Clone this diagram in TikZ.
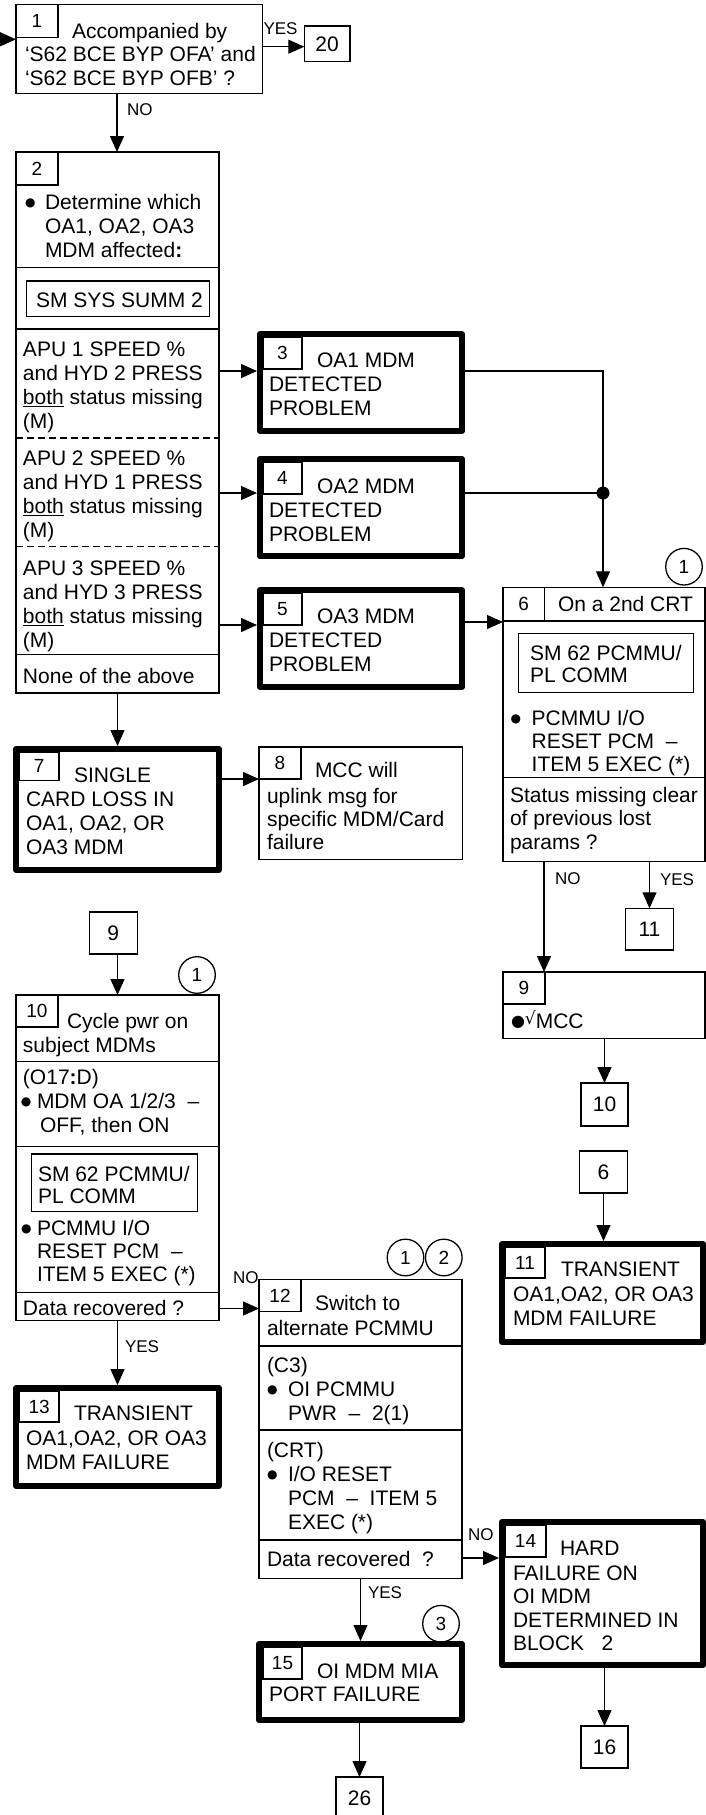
\documentclass[tikz,border=0pt]{standalone}
\usepackage{fontspec}
\setmainfont{Liberation Sans}
\newfontfamily\djv{DejaVu Sans}
\usetikzlibrary{arrows.meta}
\newcommand\fsz[1]{\fontsize{21}{#1}\selectfont}
\newcommand\ML[1]{\begin{tabular}[t]{@{}l@{}}#1\end{tabular}}
\newcommand\Bul[1]{\makebox[#1][l]{\raisebox{3pt}{\djv\fontsize{12}{12}\selectfont ●}}}
\newcommand\Ind[1]{\hspace*{#1}}
\newcommand\bx[6][box]{\node[#1,minimum width={(#5-#3)*1pt},minimum height={(#6-#4)*1pt}] (#2) at ({(#3+#5)/2},{(#4+#6)/2}) {};}
\newcommand\nb[7][numb]{\node[#1,minimum width={(#5-#3)*1pt},minimum height={(#6-#4)*1pt}] (#2) at ({(#3+#5)/2},{(#4+#6)/2}) {#7};}
\begin{document}
\begin{tikzpicture}[x=1pt,y=-1pt,line width=1.3pt,
  box/.style={draw,line width=1.3pt,inner sep=0pt,outer sep=0pt},
  tbox/.style={draw,line width=6pt,inner sep=0pt,outer sep=3pt,line join=round},
  numb/.style={draw,line width=1.3pt,inner sep=0pt,outer sep=0pt,font={\fontsize{19}{19}\selectfont}},
  refb/.style={draw,line width=1.3pt,inner sep=0pt,outer sep=0pt,font={\fontsize{21}{21}\selectfont}},
  tx/.style={anchor=base west,inner sep=0pt,outer sep=0pt,font={\fsz{24}}},
  lbl/.style={anchor=base west,inner sep=0pt,outer sep=0pt,font={\fontsize{17}{17}\selectfont}},
  circ/.style={draw,circle,line width=1.3pt,minimum size=36.6pt,inner sep=0pt,font={\fontsize{19}{19}\selectfont}},
  arr/.style={-{Triangle[length=16pt,width=14pt]},line width=1.3pt},
  dsh/.style={line width=1.3pt,dash pattern=on 7pt off 4pt}]
\clip (0,0) rectangle (706,1815);

% ---------- Box 1 ----------
\bx{b1}{16}{4.3}{262.3}{93.3}
\nb{n1}{16}{4.3}{58}{37.7}{1}
\node[tx] (t1a) at (72,38) {Accompanied by};
\node[tx,font={\fsz{23.5}}] (t1b) at (25,61.5) {\ML{‘S62 BCE BYP OFA’ and\\‘S62 BCE BYP OFB’ ?}};
\nb[refb]{b20}{304.3}{26}{350}{61.7}{20}
\node[lbl] (l1y) at (263.5,34.5) {YES};
\node[lbl] (l1n) at (127,115) {NO};

% ---------- Box 2 ----------
\bx{b2}{16}{152}{219}{693}
\nb{n2}{16}{152}{58}{185}{2}
\node[tx] (t2a) at (25,209.5) {\ML{\Bul{20pt}Determine which\\\Ind{20pt}OA1, OA2, OA3\\\Ind{20pt}MDM affected\textbf{:}}};
\draw (16,267.8) -- (219,267.8);
\bx{s2}{26.7}{281}{209.3}{316.8}
\node[tx] (t2b) at (36,307) {SM SYS SUMM 2};
\draw (16,329) -- (219,329);
\node[tx] (t2c) at (23,356.5) {\ML{APU 1 SPEED \%\\and HYD 2 PRESS\\\underline{both} status missing\\(M)}};
\draw[dsh] (16,438) -- (219,438);
\node[tx] (t2d) at (23,465.5) {\ML{APU 2 SPEED \%\\and HYD 1 PRESS\\\underline{both} status missing\\(M)}};
\draw[dsh] (16,546.4) -- (219,546.4);
\node[tx] (t2e) at (23,575.5) {\ML{APU 3 SPEED \%\\and HYD 3 PRESS\\\underline{both} status missing\\(M)}};
\draw (16,654.3) -- (219,654.3);
\node[tx] (t2f) at (23,683) {None of the above};

% ---------- Boxes 3, 4, 5 ----------
\bx[tbox]{b3}{260}{334}{462}{431}
\nb{n3}{263}{337}{302}{369}{3}
\node[tx] (t3a) at (317,367) {OA1 MDM};
\node[tx] (t3b) at (269,391.5) {\ML{DETECTED\\PROBLEM}};
\bx[tbox]{b4}{260}{459}{462}{556}
\nb{n4}{263}{462}{302}{494}{4}
\node[tx] (t4a) at (317,493) {OA2 MDM};
\node[tx] (t4b) at (269,517) {\ML{DETECTED\\PROBLEM}};
\bx[tbox]{b5}{260}{590}{462}{687}
\nb{n5}{263}{593}{302}{625}{5}
\node[tx] (t5a) at (317,623) {OA3 MDM};
\node[tx] (t5b) at (269,647.5) {\ML{DETECTED\\PROBLEM}};

% ---------- Box 6 ----------
\bx{b6}{503}{587.3}{705}{861.7}
\nb{n6}{503}{587.3}{544.3}{621}{6}
\draw (503,621) -- (705,621);
\node[tx] (t6a) at (558,611.5) {On a 2nd CRT};
\bx{s6}{518.3}{633.3}{693.3}{692.7}
\node[tx,font={\fsz{22.5}}] (t6b) at (530,660) {\ML{SM 62 PCMMU/\\PL COMM}};
\node[tx,font={\fsz{23}}] (t6c) at (510.7,725) {\ML{\Bul{21pt}PCMMU I/O\\\Ind{21pt}RESET PCM\ \ –\\\Ind{21pt}ITEM 5 EXEC (*)}};
\draw (503,777.7) -- (705,777.7);
\node[tx,font={\fsz{23.5}}] (t6d) at (510,802) {\ML{Status missing clear\\of previous lost\\params ?}};
\node[circ] (c6) at (684,566.7) {1};
\node[lbl] (l6n) at (555,884) {NO};
\node[lbl] (l6y) at (660,885) {YES};
\nb[refb]{b11s}{625.7}{908.3}{673.3}{950}{11}

% ---------- Box 7, 8 ----------
\bx[tbox]{b7}{16.3}{749}{218.7}{870}
\nb{n7}{19.3}{752}{59}{780.7}{7}
\node[tx] (t7a) at (74,782.5) {SINGLE};
\node[tx] (t7b) at (26,806.5) {\ML{CARD LOSS IN\\OA1, OA2, OR\\OA3 MDM}};
\bx{b8}{259}{747}{462.7}{859.3}
\nb{n8}{259}{747}{301}{779}{8}
\node[tx] (t8a) at (315,777) {MCC will};
\node[tx,font={\fsz{23}}] (t8b) at (267,803) {\ML{uplink msg for\\specific MDM/Card\\failure}};

% ---------- Box 9 (right), refs ----------
\bx{b9r}{503}{972}{705}{1038.5}
\nb{n9r}{503}{972}{545}{1004}{9}
\node[tx] (t9r) at (511,1028) {{\djv\fontsize{16}{16}\selectfont\raisebox{1.5pt}{●}}{\djv\fontsize{17}{17}\selectfont\raisebox{4pt}{√}}MCC};
\nb[refb]{b10s}{581}{1083}{628}{1126}{10}
\nb[refb]{b6s}{579.5}{1151}{627.5}{1193}{6}

% ---------- Box 11 ----------
\bx[tbox]{b11}{502}{1244}{703}{1342}
\nb{n11}{505}{1247}{545}{1278}{11}
\node[tx] (t11a) at (561,1276.5) {TRANSIENT};
\node[tx] (t11b) at (513,1301) {\ML{OA1,OA2, OR OA3\\MDM FAILURE}};

% ---------- Box 9 (left), Box 10 ----------
\nb[refb]{b9l}{89.3}{912}{137.3}{954}{9}
\bx{b10}{16}{995}{219}{1320.7}
\nb{n10}{16}{995}{58}{1027}{10}
\node[tx] (t10a) at (67,1028.5) {Cycle pwr on};
\node[tx] (t10b) at (23,1052.5) {subject MDMs};
\draw (16,1061.7) -- (219,1061.7);
\node[tx] (t10c) at (23,1084) {\ML{(O17\textbf{:}D)\\\Ind{-2pt}\Bul{16pt}MDM OA 1/2/3\ \ –\\\Ind{17pt}OFF, then ON}};
\draw (16,1146.7) -- (219,1146.7);
\bx{s10}{31.7}{1154}{197.3}{1211.7}
\node[tx,font={\fsz{22}}] (t10d) at (38,1181.5) {\ML{SM 62 PCMMU/\\PL COMM}};
\node[tx,font={\fsz{23.3}}] (t10e) at (21,1235) {\ML{\Bul{16pt}PCMMU I/O\\\Ind{16pt}RESET PCM\ \ –\\\Ind{16pt}ITEM 5 EXEC (*)}};
\draw (16,1292.7) -- (219,1292.7);
\node[tx] (t10f) at (23,1315) {Data recovered ?};
\node[circ] (c10) at (197,975) {1};
\node[lbl] (l10n) at (233,1283) {NO};
\node[lbl] (l10y) at (125,1352.5) {YES};

% ---------- Box 13 ----------
\bx[tbox]{b13}{16.3}{1388}{218.7}{1486}
\nb{n13}{19.3}{1391}{59}{1422}{13}
\node[tx] (t13a) at (74,1420.5) {TRANSIENT};
\node[tx] (t13b) at (26,1445) {\ML{OA1,OA2, OR OA3\\MDM FAILURE}};

% ---------- Box 12 ----------
\bx{b12}{259}{1279.3}{462}{1578.3}
\nb{n12}{259}{1279.3}{301}{1311.7}{12}
\node[tx] (t12a) at (315,1310.5) {Switch to};
\node[tx] (t12b) at (267,1335) {alternate PCMMU};
\draw (259,1346) -- (462,1346);
\node[tx] (t12c) at (267,1372) {\ML{(C3)\\\Bul{21pt}OI PCMMU\\\Ind{21pt}PWR\ \ –\ \ 2(1)}};
\draw (259,1430) -- (462,1430);
\node[tx] (t12d) at (267,1457) {\ML{(CRT)\\\Bul{21pt}I/O RESET\\\Ind{21pt}PCM\ \ –\ \ ITEM 5\\\Ind{21pt}EXEC (*)}};
\draw (259,1540) -- (462,1540);
\node[tx] (t12e) at (267,1566.5) {Data recovered\ \ ?};
\node[circ] (c12a) at (405.5,1257.5) {1};
\node[circ] (c12b) at (443.8,1257.5) {2};
\node[lbl] (l12n) at (468,1540) {NO};
\node[lbl] (l12y) at (368,1598.5) {YES};

% ---------- Box 14 ----------
\bx[tbox]{b14}{502}{1522}{703}{1665}
\nb{n14}{505}{1525}{546}{1557}{14}
\node[tx] (t14a) at (560,1555) {HARD};
\node[tx,font={\fsz{23.5}}] (t14b) at (513,1580) {\ML{FAILURE ON\\OI MDM\\DETERMINED IN\\BLOCK\ \ \ 2}};
\nb[refb]{b16}{581}{1726}{628}{1768}{16}

% ---------- Box 15 ----------
\bx[tbox]{b15}{259}{1644}{462}{1720}
\nb{n15}{263}{1647}{302}{1679}{15}
\node[tx] (t15a) at (317,1678) {OI MDM MIA};
\node[tx] (t15b) at (269,1701.5) {PORT FAILURE};
\node[circ] (c15) at (441,1623.7) {3};
\nb[refb]{b26}{336}{1777}{383}{1819}{26}

% ---------- Connectors ----------
\coordinate (in1) at (0,39.3);
\draw[arr] (in1) -- (in1 -| b1.west);
\coordinate (y120) at (0,46.7);
\draw[arr] (b1.east |- y120) -- (b20.west |- y120);
\coordinate (x12) at (117,0);
\draw[arr] (b1.south -| x12) -- (b2.north -| x12);
\coordinate (ya3) at (0,371);
\coordinate (ya4) at (0,493);
\coordinate (ya5) at (0,625);
\draw[arr] (b2.east |- ya3) -- (b3.west |- ya3);
\draw[arr] (b2.east |- ya4) -- (b4.west |- ya4);
\draw[arr] (b2.east |- ya5) -- (b5.west |- ya5);
\draw[arr] (b2.south) -- (b7.north);
\coordinate (j1) at (603,371);
\coordinate (j2) at (603,493);
\draw[arr] (b3.east |- j1) -- (j1) -- (j1 |- b6.north);
\draw (b4.east |- j2) -- (j2);
\fill (j2) circle[radius=6.5pt];
\coordinate (y56) at (0,622);
\draw[arr] (b5.east |- y56) -- (b6.west |- y56);
\coordinate (x6n) at (544,0);
\draw[arr] (b6.south -| x6n) -- (b9r.north -| x6n);
\draw[arr] (b6.south -| b11s.north) -- (b11s.north);
\coordinate (y78) at (0,779);
\draw[arr] (b7.east |- y78) -- (b8.west |- y78);
\draw[arr] (b9r.south -| b10s.north) -- (b10s.north);
\draw[arr] (b6s.south) -- (b11.north -| b6s.south);
\draw[arr] (b9l.south -| b10.north) -- (b10.north);
\coordinate (y1012) at (0,1308.5);
\draw[arr] (b10.east |- y1012) -- (b12.west |- y1012);
\draw[arr] (b10.south) -- (b13.north);
\coordinate (y1214) at (0,1558);
\draw[arr] (b12.east |- y1214) -- (b14.west |- y1214);
\draw[arr] (b12.south) -- (b15.north);
\draw[arr] (b15.south -| b26.north) -- (b26.north);
\draw[arr] (b14.south -| b16.north) -- (b16.north);
\end{tikzpicture}
\end{document}
